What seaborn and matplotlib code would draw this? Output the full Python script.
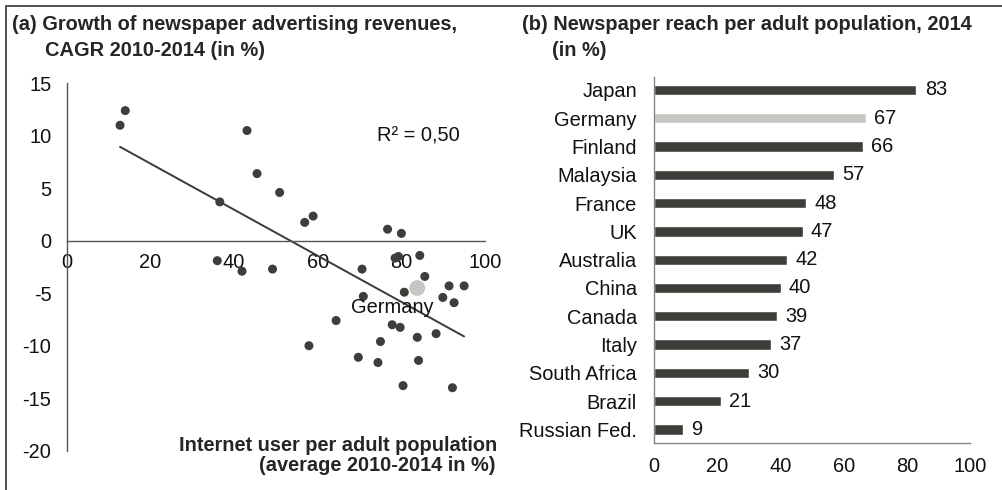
import matplotlib
matplotlib.use("Agg")
import matplotlib.pyplot as plt
import seaborn as sns
import pandas as pd

# Panel (a): internet users vs. growth of newspaper ad revenues
internet_users = [12.75, 14.0, 43.1, 45.5, 50.9, 36.6, 56.9, 58.9, 76.7, 80.0,
                  36.0, 41.9, 49.2, 70.6, 78.5, 79.3, 84.4, 85.6, 80.7, 91.4,
                  95.0, 89.9, 92.6, 70.9, 64.4, 77.8, 79.7, 88.3, 83.8, 75.0,
                  57.9, 69.7, 74.4, 84.1, 80.4, 92.2]
ad_growth = [11.0, 12.4, 10.5, 6.4, 4.6, 3.7, 1.75, 2.35, 1.1, 0.7,
             -1.9, -2.9, -2.7, -2.7, -1.65, -1.5, -1.4, -3.4, -4.9, -4.3,
             -4.3, -5.4, -5.9, -5.3, -7.6, -8.0, -8.25, -8.85, -9.2, -9.6,
             -10.0, -11.1, -11.6, -11.4, -13.8, -14.0]
germany_users = [83.8]
germany_growth = [-4.5]

# Panel (b): newspaper reach per adult population, 2014
countries = ["Japan", "Germany", "Finland", "Malaysia", "France", "UK",
             "Australia", "China", "Canada", "Italy", "South Africa",
             "Brazil", "Russian Fed."]
reach = [83, 67, 66, 57, 48, 47, 42, 40, 39, 37, 30, 21, 9]

DARK = "#3d3d39"
LIGHT = "#c6c6c2"

sns.set_theme(style="white")
plt.rcParams["font.family"] = ["Liberation Sans", "DejaVu Sans"]
plt.rcParams["axes.unicode_minus"] = False
FS = 14.4

W, H = 1003, 490
fig = plt.figure(figsize=(W / 100, H / 100), dpi=100)

# ---------- (a) scatter with linear fit ----------
ax1 = fig.add_axes([0.0665, 0.0802, 0.4171, 0.7498])
all_x = internet_users + germany_users
all_y = ad_growth + germany_growth
sns.regplot(x=all_x, y=all_y, ax=ax1, ci=None, scatter=False,
            line_kws=dict(color="#3a3a3a", lw=1.4))
sns.scatterplot(x=internet_users, y=ad_growth, ax=ax1, color=DARK,
                s=42, edgecolor="none", zorder=3)
sns.scatterplot(x=germany_users, y=germany_growth, ax=ax1, color=LIGHT,
                s=130, edgecolor="none", zorder=3)
ax1.set_xlim(0, 100)
ax1.set_ylim(-20, 15)
ax1.set_xticks(range(0, 101, 20))
ax1.set_yticks(range(-20, 16, 5))
for s in ("top", "right"):
    ax1.spines[s].set_visible(False)
ax1.spines["bottom"].set_position(("data", 0))
for s in ("left", "bottom"):
    ax1.spines[s].set_color("#555555")
    ax1.spines[s].set_linewidth(1.0)
ax1.tick_params(axis="both", direction="out", length=5, width=1.0,
                color="#555555", labelsize=FS, labelcolor="#111111")
ax1.tick_params(axis="y", pad=6)
ax1.tick_params(axis="x", pad=4)
ax1.text(74.2, 10.0, "R² = 0,50", fontsize=FS, va="center", ha="left",
         color="#111111")
ax1.text(77.7, -6.4, "Germany", fontsize=FS, va="center", ha="center",
         color="#111111", zorder=4)

fig.text(497 / W, 1 - 445 / H, "Internet user per adult population",
         fontsize=FS, fontweight="bold", ha="right", va="center")
fig.text(496 / W, 1 - 465 / H, "(average 2010-2014 in %)",
         fontsize=FS, fontweight="bold", ha="right", va="center")

fig.text(12 / W, 1 - 25 / H, "(a) Growth of newspaper advertising revenues,",
         fontsize=FS, fontweight="bold", va="center", ha="left")
fig.text(45 / W, 1 - 50 / H, "CAGR 2010-2014 (in %)",
         fontsize=FS, fontweight="bold", va="center", ha="left")

# ---------- (b) horizontal bars ----------
ax2 = fig.add_axes([0.6523, 0.0959, 0.3148, 0.7470])
df = pd.DataFrame({"country": countries, "reach": reach})
colors = [LIGHT if c == "Germany" else DARK for c in countries]
sns.barplot(data=df, x="reach", y="country", hue="country", palette=colors,
            orient="h", width=0.36, legend=False, ax=ax2, saturation=1)
for cont in ax2.containers:
    ax2.bar_label(cont, padding=6, fontsize=FS, color="#111111")
ax2.set_xlim(0, 100)
ax2.set_ylim(12.48, -0.46)
ax2.set_xticks(range(0, 101, 20))
ax2.set_xlabel("")
ax2.set_ylabel("")
for s in ("top", "right"):
    ax2.spines[s].set_visible(False)
for s in ("left", "bottom"):
    ax2.spines[s].set_color("#858585")
    ax2.spines[s].set_linewidth(1.0)
ax2.tick_params(axis="x", direction="out", length=5, width=1.0,
                color="#858585", labelsize=FS, labelcolor="#111111", pad=5)
ax2.tick_params(axis="y", length=0, labelsize=FS, labelcolor="#111111", pad=12.5)

fig.text(522 / W, 1 - 25 / H, "(b) Newspaper reach per adult population, 2014",
         fontsize=FS, fontweight="bold", va="center", ha="left")
fig.text(552 / W, 1 - 50 / H, "(in %)",
         fontsize=FS, fontweight="bold", va="center", ha="left")

# thin frame around the figure
fig.patches.append(plt.Rectangle((6 / W, -0.1), 1.2, 1 - 6.5 / H + 0.1,
                                 transform=fig.transFigure, fill=False,
                                 edgecolor="#333333", lw=1.2))

fig.savefig("out.png", dpi=100)
